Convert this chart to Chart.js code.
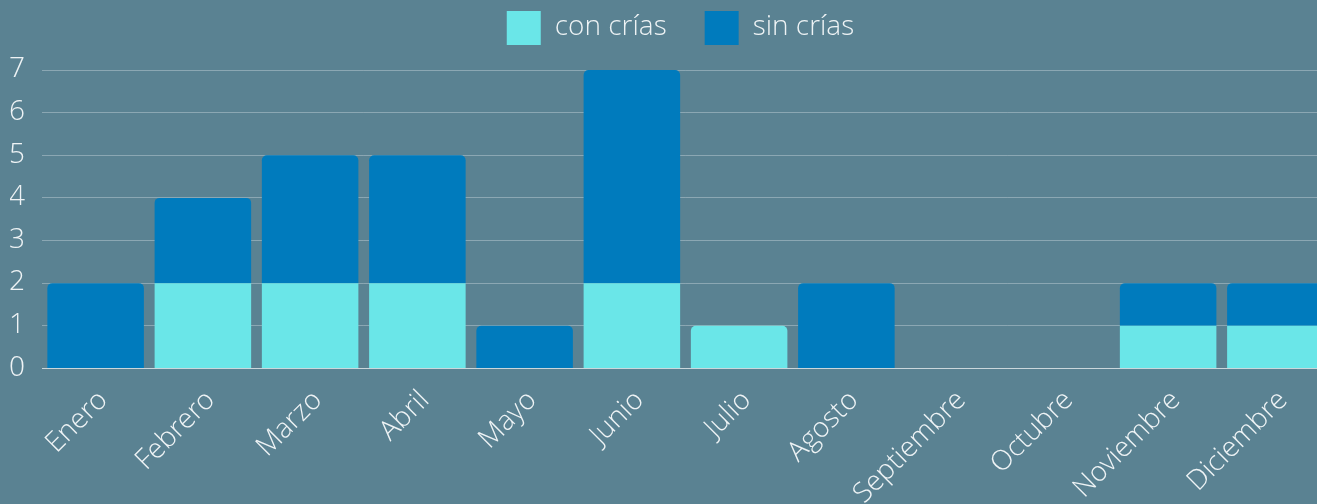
<!DOCTYPE html>
<html>
<head>
<meta charset="utf-8">
<script src="https://cdn.jsdelivr.net/npm/chart.js@4.4.0/dist/chart.umd.min.js"></script>
<style>
  html, body { margin: 0; padding: 0; background: #5a8292; overflow: hidden; }
  #wrap { width: 1351px; height: 527px; position: relative; }
</style>
</head>
<body>
<div id="wrap"><canvas id="chart"></canvas></div>
<script>
const months = ['Enero', 'Febrero', 'Marzo', 'Abril', 'Mayo', 'Junio', 'Julio', 'Agosto', 'Septiembre', 'Octubre', 'Noviembre', 'Diciembre'];
const conCrias = [0, 2, 2, 2, 0, 2, 1, 0, 0, 0, 1, 1];
const sinCrias = [2, 2, 3, 3, 1, 5, 0, 2, 0, 0, 1, 1];

const textColor = '#eef3f5';
const font = { family: '"Open Sans Light", "Open Sans", sans-serif', size: 28, weight: '300' };

// extra room between legend and plot
const legendMargin = {
    id: 'legendMargin',
    beforeInit(chart) {
        const fit = chart.legend.fit;
        chart.legend.fit = function () {
            fit.bind(chart.legend)();
            this.height += 15;
        };
    }
};

const createStackedChart = (canvasId) => {
    const ctx = document.getElementById(canvasId);
    if (!ctx) return null;

    return new Chart(ctx, {
        type: 'bar',
        data: {
            labels: months,
            datasets: [
                { label: 'con crías', data: conCrias, backgroundColor: '#6ae6e8' },
                { label: 'sin crías', data: sinCrias, backgroundColor: '#007bbd' }
            ]
        },
        plugins: [legendMargin],
        options: {
            responsive: true,
            maintainAspectRatio: false,
            animation: false,
            layout: { padding: { left: 10, right: 0, top: -27, bottom: 0 } },
            datasets: {
                bar: { categoryPercentage: 0.9, barPercentage: 1, borderRadius: 5, borderSkipped: 'start' }
            },
            plugins: {
                legend: {
                    position: 'top',
                    labels: { color: textColor, font: font, boxWidth: 34, boxHeight: 34, padding: 38 }
                },
                tooltip: { enabled: false }
            },
            scales: {
                x: {
                    stacked: true,
                    afterFit: (scale) => { scale.paddingRight = 22; },
                    grid: { display: false, drawTicks: false },
                    border: { color: 'rgba(255,255,255,0.55)', width: 1 },
                    ticks: { color: textColor, font: font, maxRotation: 45, minRotation: 45, padding: 16, labelOffset: 8, autoSkip: false }
                },
                y: {
                    stacked: true,
                    min: 0,
                    max: 7,
                    afterFit: (scale) => { scale.width = 32; },
                    grid: { color: 'rgba(255,255,255,0.3)', drawTicks: false },
                    border: { display: false },
                    ticks: { color: textColor, font: font, stepSize: 1, padding: 17 }
                }
            }
        }
    });
};

createStackedChart('chart');
</script>
</body>
</html>
